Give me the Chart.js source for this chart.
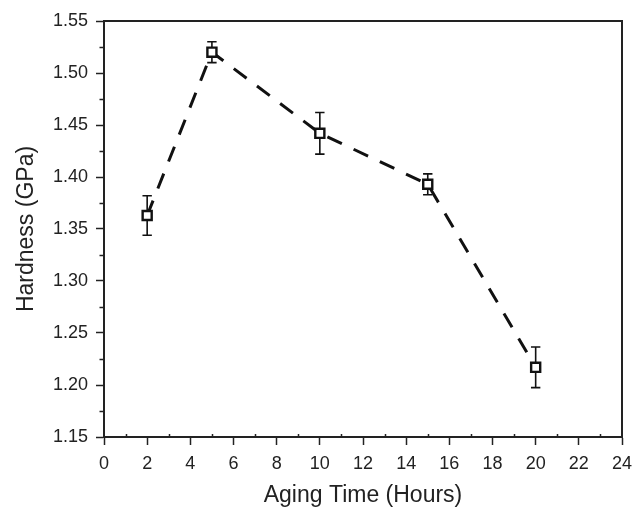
<!DOCTYPE html>
<html><head><meta charset="utf-8">
<script src="https://cdn.jsdelivr.net/npm/chart.js@4/dist/chart.umd.min.js"></script>
<style>html,body{margin:0;padding:0;background:#fff}canvas{display:block}</style>
</head><body>
<canvas id="c" width="642" height="509"></canvas>
<script>
const agingTime = [2, 5, 10, 15, 20];
const hardness = [1.363, 1.520, 1.442, 1.393, 1.217];
const hardnessErr = [0.019, 0.010, 0.020, 0.010, 0.0195];
const xTitle = 'Aging Time (Hours)';
const yTitle = 'Hardness (GPa)';

const FONT = "'Liberation Sans', Arial, sans-serif";
const INK = '#222';

const extrasPlugin = {
  id: 'extras',
  beforeDatasetsDraw(chart) {
    const ctx = chart.ctx, xs = chart.scales.x, ys = chart.scales.y;
    ctx.save();
    ctx.strokeStyle = '#111';
    ctx.lineWidth = 1.6;
    agingTime.forEach((t, i) => {
      const px = xs.getPixelForValue(t);
      const top = ys.getPixelForValue(hardness[i] + hardnessErr[i]);
      const bot = ys.getPixelForValue(hardness[i] - hardnessErr[i]);
      ctx.beginPath();
      ctx.moveTo(px, top); ctx.lineTo(px, bot);
      ctx.moveTo(px - 4.7, top); ctx.lineTo(px + 4.7, top);
      ctx.moveTo(px - 4.7, bot); ctx.lineTo(px + 4.7, bot);
      ctx.stroke();
    });
    ctx.restore();
  },
  afterDraw(chart) {
    const ctx = chart.ctx, a = chart.chartArea, xs = chart.scales.x, ys = chart.scales.y;
    ctx.save();
    ctx.strokeStyle = INK;
    ctx.lineWidth = 2;
    ctx.beginPath();
    ctx.moveTo(a.left, a.top); ctx.lineTo(a.right, a.top); ctx.lineTo(a.right, a.bottom);
    ctx.stroke();
    ctx.lineWidth = 1.5;
    ctx.beginPath();
    for (let v = 1; v < 24; v += 2) {
      const px = Math.round(xs.getPixelForValue(v)) + 0.5;
      ctx.moveTo(px, a.bottom); ctx.lineTo(px, a.bottom - 3);
    }
    for (let k = 1175; k < 1550; k += 50) {
      const py = Math.round(ys.getPixelForValue(k / 1000)) + 0.5;
      ctx.moveTo(a.left, py); ctx.lineTo(a.left - 4.5, py);
    }
    ctx.stroke();
    ctx.restore();
  }
};

new Chart(document.getElementById('c'), {
  type: 'line',
  data: {
    datasets: [{
      data: agingTime.map((t, i) => ({x: t, y: hardness[i]})),
      borderColor: '#111',
      borderWidth: 3,
      borderDash: [16, 13],
      pointStyle: 'rect',
      pointRadius: 6.4,
      pointBorderWidth: 2.4,
      pointBorderColor: '#111',
      pointBackgroundColor: '#fff',
      tension: 0,
      fill: false
    }]
  },
  options: {
    responsive: false,
    animation: false,
    devicePixelRatio: 1,
    layout: {padding: {top: 21, right: 20, left: 0, bottom: 0}},
    plugins: {legend: {display: false}, tooltip: {enabled: false}},
    scales: {
      x: {
        type: 'linear', min: 0, max: 24,
        afterFit(s) { s.height = 72; },
        ticks: {stepSize: 2, color: INK, font: {family: FONT, size: 18}, padding: 8, maxRotation: 0},
        grid: {drawOnChartArea: false, drawTicks: true, tickLength: 8, tickColor: INK, tickWidth: 1.5},
        border: {color: INK, width: 2},
        title: {display: true, text: xTitle, color: INK, font: {family: FONT, size: 23}, padding: {top: 0, bottom: 0}}
      },
      y: {
        type: 'linear', min: 1.15, max: 1.55,
        afterFit(s) { s.width = 104; },
        ticks: {
          stepSize: 0.05, color: INK, font: {family: FONT, size: 18}, padding: 8,
          callback(v) { return v.toFixed(2); }
        },
        grid: {drawOnChartArea: false, drawTicks: true, tickLength: 8, tickColor: INK, tickWidth: 1.5},
        border: {color: INK, width: 2},
        title: {display: true, text: yTitle, color: INK, font: {family: FONT, size: 23}, padding: {top: 13, bottom: 0}}
      }
    }
  },
  plugins: [extrasPlugin]
});
</script>
</body></html>
